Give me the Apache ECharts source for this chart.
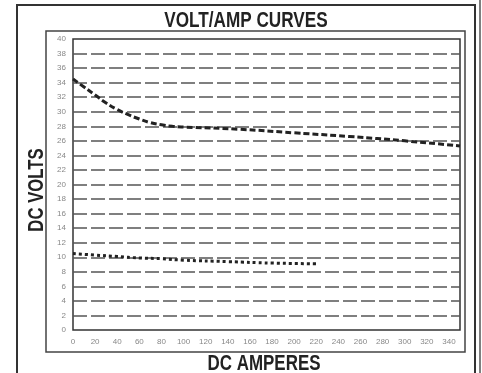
<!DOCTYPE html>
<html>
<head>
<meta charset="utf-8">
<script src="https://cdn.jsdelivr.net/npm/echarts@6/dist/echarts.min.js"></script>
<style>html,body{margin:0;padding:0;background:#fff}#c{width:482px;height:373px}</style>
</head>
<body>
<div id="c"></div>
<script>
var title = 'VOLT/AMP CURVES';
var xName = 'DC AMPERES';
var yName = 'DC VOLTS';
var upperAmps  = [0, 10, 20, 30, 40, 50, 60, 70, 80, 90, 100, 150, 200, 250, 300, 350];
var upperVolts = [34.5, 33.4, 32.3, 31.2, 30.3, 29.6, 29.0, 28.5, 28.2, 28.0, 27.9, 27.6, 27.1, 26.6, 26.0, 25.3];
var lowerAmps  = [0, 20, 40, 60, 80, 100, 140, 180, 220];
var lowerVolts = [10.5, 10.3, 10.1, 9.9, 9.8, 9.6, 9.4, 9.2, 9.1];

function pairs(xs, ys){ return xs.map(function(x,i){ return [x, ys[i]]; }); }

var bold = "bold 22px 'Liberation Sans', Arial, sans-serif";
var chart = echarts.init(document.getElementById('c'), null, {renderer:'canvas'});
chart.setOption({
  animation: false,
  backgroundColor: '#fff',
  grid: {left: 73, top: 39, width: 387, height: 291, show: true, borderColor: '#333', borderWidth: 1.5, backgroundColor: 'transparent'},
  xAxis: {
    type: 'value', min: 0, max: 350, interval: 20,
    axisLine: {show: false}, axisTick: {show: false},
    axisLabel: {showMaxLabel: false, color: '#888', fontSize: 8, margin: 8, fontFamily: 'Liberation Sans, sans-serif'},
    splitLine: {show: false}
  },
  yAxis: {
    type: 'value', min: 0, max: 40, interval: 2,
    axisLine: {show: false}, axisTick: {show: false},
    axisLabel: {color: '#888', fontSize: 8, margin: 7, fontFamily: 'Liberation Sans, sans-serif'},
    splitLine: {show: true, showMinLine: false, showMaxLine: false, lineStyle: {color: '#555', width: 1.6, type: [14, 4]}}
  },
  graphic: [
    {type: 'rect', z: -1, shape: {x: 17, y: 5, width: 458, height: 380}, style: {fill: 'none', stroke: '#333', lineWidth: 2}},
    {type: 'line', z: -1, shape: {x1: 480, y1: 0, x2: 480, y2: 373}, style: {stroke: '#555', lineWidth: 1.5}},
    {type: 'rect', z: -1, shape: {x: 46, y: 31, width: 419, height: 321}, style: {fill: 'none', stroke: '#444', lineWidth: 1.5}},
    {type: 'text', x: 246, y: 21, scaleX: 0.78, style: {text: title, font: bold, fill: '#222', textAlign: 'center', textVerticalAlign: 'middle'}},
    {type: 'text', x: 37, y: 190, scaleX: 0.76, rotation: Math.PI / 2, style: {text: yName, font: bold, fill: '#222', textAlign: 'center', textVerticalAlign: 'middle'}},
    {type: 'text', x: 264, y: 364, scaleX: 0.77, style: {text: xName, font: bold, fill: '#222', textAlign: 'center', textVerticalAlign: 'middle'}}
  ],
  series: [
    {type: 'line', data: pairs(upperAmps, upperVolts), smooth: true, showSymbol: false,
     lineStyle: {color: '#222', width: 3, type: [6, 3]}},
    {type: 'line', data: pairs(lowerAmps, lowerVolts), smooth: true, showSymbol: false,
     lineStyle: {color: '#222', width: 3, type: [3, 3]}}
  ]
});
</script>
</body>
</html>
